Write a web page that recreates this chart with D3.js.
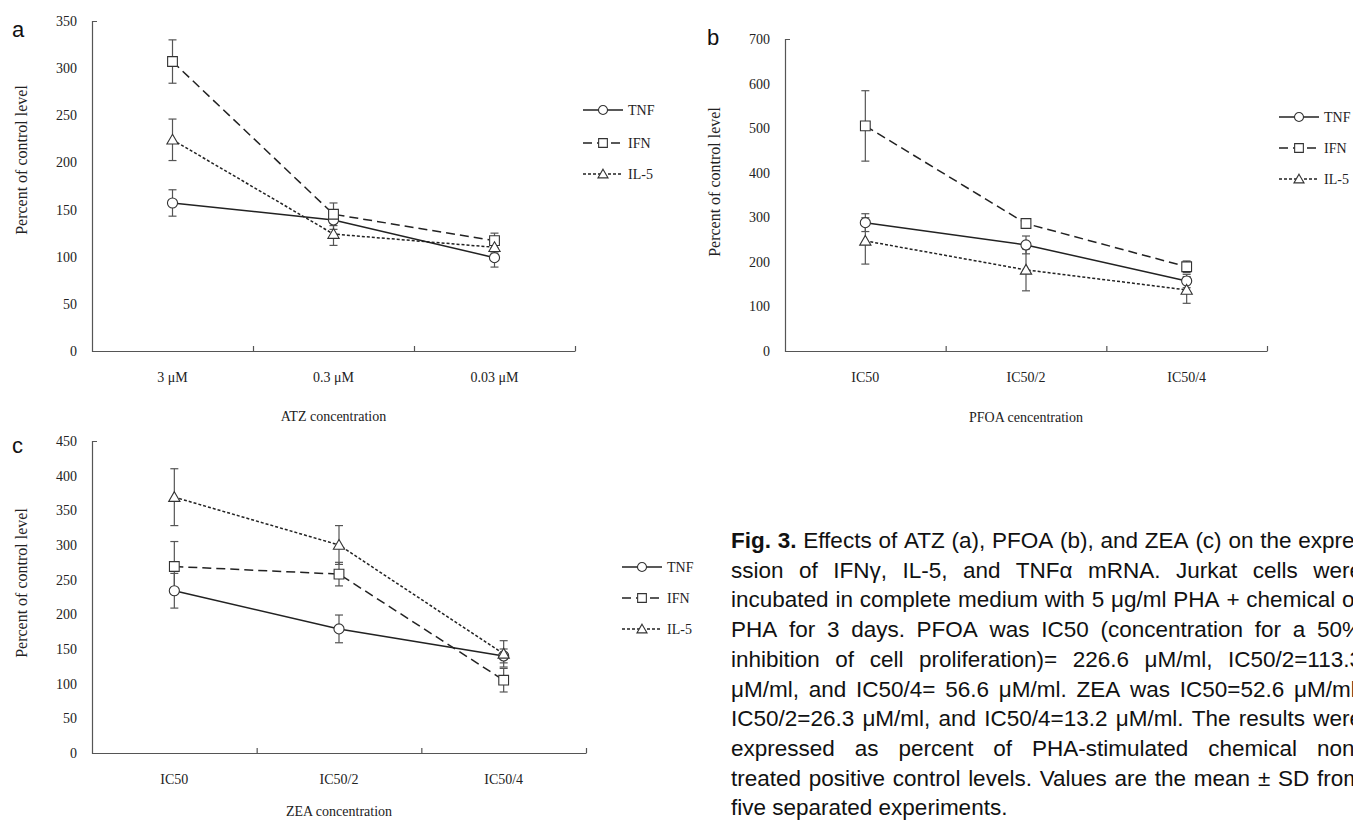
<!DOCTYPE html>
<html>
<head>
<meta charset="utf-8">
<script src="https://cdn.jsdelivr.net/npm/d3@7"></script>
<style>
  body { margin: 0; background: #fff; }
  svg { display: block; }
</style>
</head>
<body>
<div id="fig"></div>
<script>
// categories
const atzCats = ["3 \u03bcM", "0.3 \u03bcM", "0.03 \u03bcM"];
const icCats = ["IC50", "IC50/2", "IC50/4"];
const seriesNames = ["TNF", "IFN", "IL-5"];

// panel a - ATZ (mean, sd)
const atzTNF = [157, 139, 99],   atzTNFsd = [14, 10, 10];
const atzIFN = [307, 145, 117],  atzIFNsd = [23, 12, 8];
const atzIL5 = [224, 124, 110],  atzIL5sd = [22, 12, 6];

// panel b - PFOA
const pfoaTNF = [288, 238, 157], pfoaTNFsd = [20, 20, 15];
const pfoaIFN = [505, 286, 189], pfoaIFNsd = [79, 10, 13];
const pfoaIL5 = [247, 182, 137], pfoaIL5sd = [52, 47, 30];

// panel c - ZEA
const zeaTNF = [234, 179, 140],  zeaTNFsd = [25, 20, 10];
const zeaIFN = [269, 258, 105],  zeaIFNsd = [36, 17, 17];
const zeaIL5 = [369, 300, 143],  zeaIL5sd = [41, 28, 19];

const yTicksA = [0, 50, 100, 150, 200, 250, 300, 350];
const yTicksB = [0, 100, 200, 300, 400, 500, 600, 700];
const yTicksC = [0, 50, 100, 150, 200, 250, 300, 350, 400, 450];

const captionLines = [
  "Fig. 3. Effects of ATZ (a), PFOA (b), and ZEA (c) on the expre-",
  "ssion of IFN\u03b3, IL-5, and TNF\u03b1 mRNA. Jurkat cells were",
  "incubated in complete medium with 5 \u03bcg/ml PHA + chemical or",
  "PHA for 3 days. PFOA was IC50 (concentration for a 50%",
  "inhibition of cell proliferation)= 226.6 \u03bcM/ml, IC50/2=113.3",
  "\u03bcM/ml, and IC50/4= 56.6 \u03bcM/ml. ZEA was IC50=52.6 \u03bcM/ml,",
  "IC50/2=26.3 \u03bcM/ml, and IC50/4=13.2 \u03bcM/ml. The results were",
  "expressed as percent of PHA-stimulated chemical non-",
  "treated positive control levels. Values are the mean \u00b1 SD from",
  "five separated experiments."
];

const width = 1353, height = 825;
const serif = "'Liberation Serif', 'Times New Roman', serif";
const sans = "'Liberation Sans', Arial, sans-serif";

const svg = d3.select("#fig").append("svg")
  .attr("width", width)
  .attr("height", height);
svg.append("rect").attr("width", width).attr("height", height).attr("fill", "#fff");

// line style for each series
const styles = {
  "TNF":  {dash: null,  symbol: d3.symbolCircle,   size: 80},
  "IFN":  {dash: "9,5", symbol: d3.symbolSquare,   size: 95},
  "IL-5": {dash: "3,2", symbol: d3.symbolTriangle, size: 55}
};

const panels = [
  {letter: "a", lx: 12, ly: 37, x0: 92, x1: 575, yTop: 21, yBot: 351, yMax: 350, ticks: yTicksA,
   cats: atzCats, xTitle: "ATZ concentration", xTitleY: 421, yTitleX: 27, yTitleY: 160,
   legX: 583, legY: [110, 143, 174],
   means: [atzTNF, atzIFN, atzIL5], sds: [atzTNFsd, atzIFNsd, atzIL5sd]},
  {letter: "b", lx: 707, ly: 45, x0: 785, x1: 1267, yTop: 39, yBot: 351, yMax: 700, ticks: yTicksB,
   cats: icCats, xTitle: "PFOA cencentration", xTitleY: 422, yTitleX: 720, yTitleY: 182,
   legX: 1279, legY: [117, 148, 179],
   means: [pfoaTNF, pfoaIFN, pfoaIL5], sds: [pfoaTNFsd, pfoaIFNsd, pfoaIL5sd]},
  {letter: "c", lx: 12, ly: 453, x0: 92, x1: 586, yTop: 441, yBot: 753, yMax: 450, ticks: yTicksC,
   cats: icCats, xTitle: "ZEA concentration", xTitleY: 816, yTitleX: 27, yTitleY: 583,
   legX: 622, legY: [567, 598, 629],
   means: [zeaTNF, zeaIFN, zeaIL5], sds: [zeaTNFsd, zeaIFNsd, zeaIL5sd]}
];

panels.forEach(p => {
  const g = svg.append("g");

  const x = d3.scaleBand().domain(p.cats).range([p.x0, p.x1]);
  const xEdge = d3.scaleLinear().domain([0, p.cats.length]).range([p.x0, p.x1]);
  const y = d3.scaleLinear().domain([0, p.yMax]).range([p.yBot, p.yTop]);
  const cx = c => x(c) + x.bandwidth() / 2;

  // y axis
  g.append("g")
    .attr("transform", `translate(${p.x0},0)`)
    .call(d3.axisLeft(y).tickValues(p.ticks).tickSizeInner(0).tickSizeOuter(-5).tickPadding(15));

  // x axis: category labels + boundary ticks
  const xAxis = g.append("g")
    .attr("transform", `translate(0,${p.yBot})`)
    .call(d3.axisBottom(x).tickSize(0).tickPadding(21));
  xAxis.select(".domain").remove();
  g.append("g")
    .attr("transform", `translate(0,${p.yBot})`)
    .call(d3.axisBottom(xEdge).tickValues(d3.range(1, p.cats.length + 1)).tickSize(-5).tickSizeOuter(0).tickFormat(""));

  g.selectAll(".domain, .tick line").attr("stroke", "#555").attr("stroke-width", 1.2);
  g.selectAll(".tick text").attr("font-family", serif).attr("font-size", 14).attr("fill", "#222");

  // axis titles
  g.append("text")
    .attr("x", (p.x0 + p.x1) / 2).attr("y", p.xTitleY)
    .attr("text-anchor", "middle")
    .attr("font-family", serif).attr("font-size", 14).attr("fill", "#222")
    .text(p.xTitle);
  g.append("text")
    .attr("transform", `translate(${p.yTitleX},${p.yTitleY}) rotate(-90)`)
    .attr("text-anchor", "middle")
    .attr("font-family", serif).attr("font-size", 16).attr("fill", "#222")
    .text("Percent of control level");

  // panel letter
  svg.append("text")
    .attr("x", p.lx).attr("y", p.ly)
    .attr("font-family", sans).attr("font-size", 22).attr("fill", "#111")
    .text(p.letter);

  const series = seriesNames.map((name, i) => ({
    name,
    pts: p.cats.map((c, j) => ({cat: c, v: p.means[i][j], sd: p.sds[i][j]}))
  }));

  const line = d3.line().x(d => cx(d.cat)).y(d => y(d.v));

  // lines
  g.selectAll(".series")
    .data(series)
    .join("path")
    .attr("fill", "none")
    .attr("stroke", "#222")
    .attr("stroke-width", 1.5)
    .attr("stroke-dasharray", d => styles[d.name].dash)
    .attr("d", d => line(d.pts));

  // error bars
  const allPts = series.flatMap(s => s.pts.map(d => ({...d, name: s.name})));
  const eb = g.append("g").attr("stroke", "#555").attr("stroke-width", 1.2);
  allPts.forEach(d => {
    const xc = cx(d.cat);
    eb.append("line").attr("x1", xc).attr("x2", xc).attr("y1", y(d.v + d.sd)).attr("y2", y(d.v - d.sd));
    eb.append("line").attr("x1", xc - 4).attr("x2", xc + 4).attr("y1", y(d.v + d.sd)).attr("y2", y(d.v + d.sd));
    eb.append("line").attr("x1", xc - 4).attr("x2", xc + 4).attr("y1", y(d.v - d.sd)).attr("y2", y(d.v - d.sd));
  });

  // markers
  g.selectAll(".mk")
    .data(allPts)
    .join("path")
    .attr("transform", d => `translate(${cx(d.cat)},${y(d.v) + (d.name === "IL-5" ? 1 : 0)})`)
    .attr("d", d => d3.symbol(styles[d.name].symbol, styles[d.name].size)())
    .attr("fill", "#fff")
    .attr("stroke", "#333")
    .attr("stroke-width", 1.1);

  // legend
  seriesNames.forEach((name, i) => {
    const ly = p.legY[i];
    const st = styles[name];
    g.append("line")
      .attr("x1", p.legX).attr("x2", p.legX + 40).attr("y1", ly).attr("y2", ly)
      .attr("stroke", "#222").attr("stroke-width", 1.5)
      .attr("stroke-dasharray", st.dash);
    g.append("path")
      .attr("transform", `translate(${p.legX + 20},${ly + (name === "IL-5" ? 1 : 0)})`)
      .attr("d", d3.symbol(st.symbol, st.size * 0.8)())
      .attr("fill", "#fff").attr("stroke", "#333").attr("stroke-width", 1.1);
    g.append("text")
      .attr("x", p.legX + 45).attr("y", ly).attr("dy", "0.35em")
      .attr("font-family", serif).attr("font-size", 14).attr("fill", "#222")
      .text(name);
  });
});

// caption, justified word by word
const capX = 731, capRight = 1362, capY0 = 548, capStep = 29.7, capSize = 22.5;
const cap = svg.append("g")
  .attr("font-family", sans).attr("font-size", capSize).attr("fill", "#111");
captionLines.forEach((ln, i) => {
  const words = ln.split(" ");
  const nodes = words.map((w, k) => cap.append("text")
    .attr("y", capY0 + i * capStep)
    .attr("font-weight", i === 0 && k < 2 ? "bold" : null)
    .text(w));
  const widths = nodes.map(n => n.node().getComputedTextLength());
  const total = d3.sum(widths);
  const last = i === captionLines.length - 1;
  let gap = capSize * 0.278;
  if (!last) gap = Math.max(gap * 0.6, (capRight - capX - total) / (words.length - 1));
  let xp = capX;
  nodes.forEach((n, k) => {
    n.attr("x", xp);
    xp += widths[k] + gap;
  });
});
</script>
</body>
</html>
